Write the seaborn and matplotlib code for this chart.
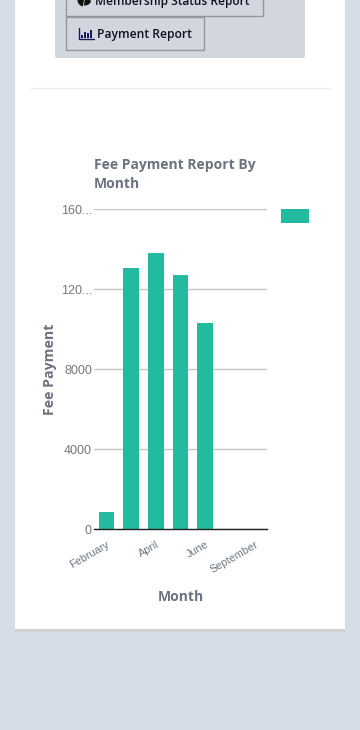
import matplotlib
matplotlib.use("Agg")
from matplotlib import pyplot as plt
from matplotlib.patches import Rectangle, FancyBboxPatch, Wedge
import pandas as pd
import seaborn as sns

months = ["February", "March", "April", "May", "June", "July", "September"]
fee_payment = [850, 13050, 13800, 12700, 10300, 0, 0]
tick_values = [0, 4000, 8000, 12000, 16000]
tick_labels = ["0", "4000", "8000", "120...", "160..."]
shown_months = ["February", "", "April", "", "June", "", "September"]
icon_bars = [3, 6, 5, 8]

sns.set_theme(style="white")
plt.rcParams["font.family"] = ["Open Sans", "DejaVu Sans"]

TEAL = "#22bba0"
GREY_TEXT = "#6b7280"

fig = plt.figure(figsize=(3.6, 7.3), dpi=100, facecolor="#d6dde7")

# page furniture, in pixel coordinates
bg = fig.add_axes([0, 0, 1, 1])
bg.set_xlim(0, 360)
bg.set_ylim(730, 0)
bg.axis("off")
bg.add_patch(Rectangle((15, 0), 330, 632, fc="#cfd0d3", ec="none"))
bg.add_patch(Rectangle((15, 0), 330, 629, fc="white", ec="none"))
bg.add_patch(FancyBboxPatch((55, -20), 250, 78, boxstyle="round,pad=0,rounding_size=2",
                            fc="#d2d6df", ec="none"))
bg.add_patch(Rectangle((65.5, -10), 197, 26, fc="#d2d6df", ec="#95979d", lw=1))
bg.add_patch(Rectangle((65.5, 17), 138, 33, fc="#d2d6df", ec="#95979d", lw=1))
bg.plot([30, 330], [88, 88], color="#eeeeee", lw=1)

bg.add_patch(Wedge((84, 0), 6.5, 100, 20, fc="#111111", ec="none"))
bg.add_patch(Wedge((85, -1), 6.5, 20, 100, fc="#111111", ec="none"))
bg.text(95, 1.5, "Membership Status Report", fontsize=8.55, color="#111122",
        va="center", ha="left", fontweight="semibold")
bg.text(97, 34.5, "Payment Report", fontsize=8.7, color="#111122",
        va="center", ha="left", fontweight="semibold")
# bar chart icon next to the button text
bg.plot([78.5, 78.5, 93.5], [28, 39, 39], color="#1a1a5a", lw=1)
for i, h in enumerate(icon_bars):
    bg.add_patch(Rectangle((81 + i * 3, 38 - h), 2, h, fc="#1a1a5a", ec="none"))

# legend swatch
bg.add_patch(Rectangle((281, 209), 28, 14, fc=TEAL, ec="none"))

# chart
ax = fig.add_axes([94 / 360, 1 - 529 / 730, 173 / 360, 320 / 730])
ax.patch.set_alpha(0)
df = pd.DataFrame({"month": months, "fee": fee_payment})
sns.barplot(data=df, x="month", y="fee", color=TEAL, saturation=1, width=0.63,
            linewidth=0, ax=ax)
ax.set_xlim(-0.5, 6.5)
ax.set_ylim(0, 16000)
ax.set_yticks(tick_values)
ax.set_yticklabels(tick_labels, family="Liberation Sans", fontsize=9.0, color="#74767c")
ax.set_xticks(range(len(months)))
ax.set_xticklabels(shown_months, family="Liberation Sans", fontsize=7.8, color="#6d7686",
                   rotation=30, ha="right", rotation_mode="anchor")
ax.tick_params(axis="y", length=0, pad=1.5)
ax.tick_params(axis="x", length=0, pad=7.5)
ax.grid(axis="y", color="#c6c6c6", lw=1)
ax.set_axisbelow(True)
for side in ["top", "right", "left"]:
    ax.spines[side].set_visible(False)
ax.spines["bottom"].set_color("#222222")
ax.spines["bottom"].set_linewidth(1)
ax.set_xlabel("")
ax.set_ylabel("")

bg.text(94, 165.5, "Fee Payment Report By", fontsize=10, fontweight="bold", color=GREY_TEXT,
        va="center", ha="left")
bg.text(94, 183.5, "Month", fontsize=10, fontweight="bold", color=GREY_TEXT,
        va="center", ha="left")
bg.text(180.5, 597, "Month", fontsize=10, fontweight="bold", color=GREY_TEXT,
        va="center", ha="center")
bg.text(50, 369, "Fee Payment", fontsize=10.2, fontweight="bold", color=GREY_TEXT,
        va="center", ha="center", rotation=90)

fig.savefig("out.png", dpi=100, facecolor=fig.get_facecolor())
